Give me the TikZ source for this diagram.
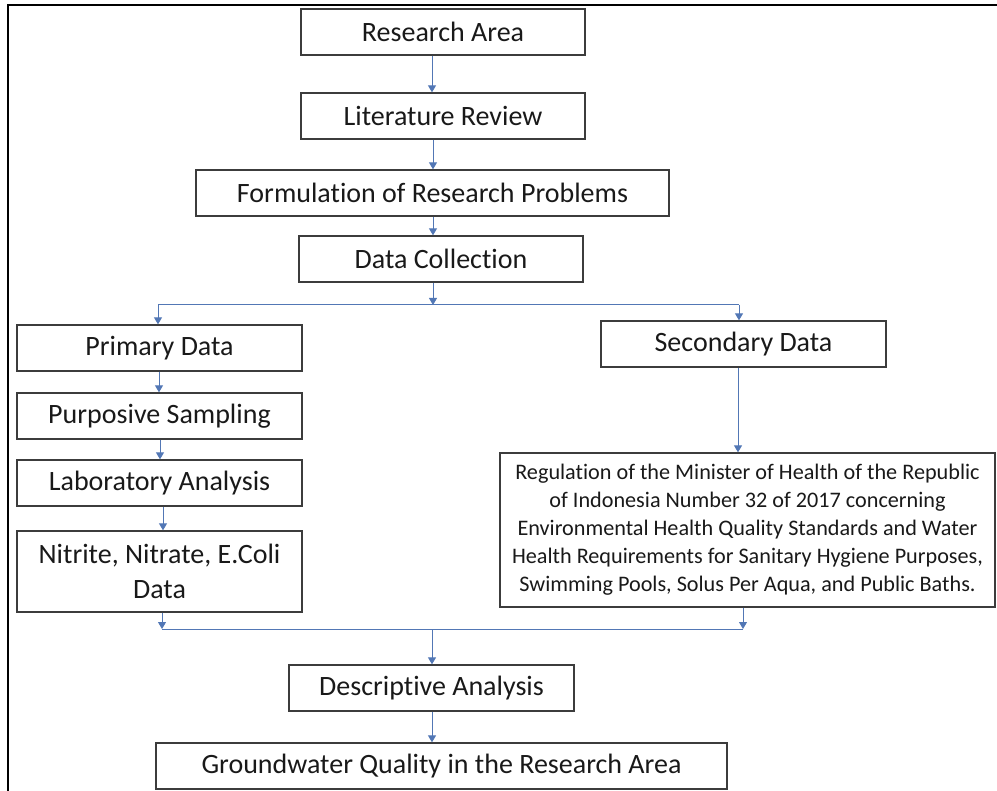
\documentclass[tikz,border=0pt]{standalone}
\usepackage{fontspec}
\setmainfont{Carlito}[Ligatures=NoCommon]
\usetikzlibrary{arrows.meta,calc}
\definecolor{boxline}{HTML}{3C3C3C}
\definecolor{arrcol}{HTML}{5277B5}
\begin{document}
\begin{tikzpicture}[x=1pt,y=-1pt,
  box/.style={draw=boxline,line width=1.3pt,inner sep=0pt,align=center,font=\fontsize{28}{34.5}\selectfont,text=black!90},
  regbox/.style={box,font=\fontsize{22.2}{28}\selectfont},
  conn/.style={draw=arrcol,line width=1pt},
  arr/.style={conn,-{Triangle[length=7pt,width=8pt]}}]
\useasboundingbox (0,0) rectangle (997,791);
\draw[line width=2pt] (8,800) -- (8,5) -- (1000,5);
\node[box,minimum width=284pt,minimum height=46pt] (ra) at (443,32) {Research Area};
\node[box,minimum width=284pt,minimum height=46pt] (lr) at (443,116) {Literature Review};
\node[box,minimum width=473pt,minimum height=46pt] (fr) at (432.5,193) {Formulation of Research Problems};
\node[box,minimum width=284pt,minimum height=46pt] (dc) at (441,259) {Data Collection};
\node[box,minimum width=285pt,minimum height=46pt] (pd) at (159.5,348) {Primary Data};
\node[box,minimum width=285pt,minimum height=46pt] (ps) at (159.5,416) {Purposive Sampling};
\node[box,minimum width=285pt,minimum height=46pt] (la) at (159.5,483) {Laboratory Analysis};
\node[box,minimum width=285pt,minimum height=81pt] (nn) at (159.5,571.5) {Nitrite, Nitrate, E.Coli\\Data};
\node[box,minimum width=285pt,minimum height=46pt] (sd) at (743.5,344) {Secondary Data};
\node[regbox,minimum width=495pt,minimum height=154pt] (rg) at (747.5,530) {Regulation of the Minister of Health of the Republic\\of Indonesia Number 32 of 2017 concerning\\Environmental Health Quality Standards and Water\\Health Requirements for Sanitary Hygiene Purposes,\\Swimming Pools, Solus Per Aqua, and Public Baths.};
\node[box,minimum width=285pt,minimum height=46pt] (da) at (431.5,688) {Descriptive Analysis};
\node[box,minimum width=571pt,minimum height=46pt] (gw) at (441.5,766) {Groundwater Quality in the Research Area};
% connectors
\draw[arr] ([xshift=-11pt]ra.south) -- ([xshift=-11pt]lr.north);
\draw[arr] ([xshift=-10pt]lr.south) -- (fr.north -| {433,0});
\draw[arr] (fr.south -| {433,0}) -- ([xshift=-8pt]dc.north);
\coordinate (split) at (433,305);
\coordinate (sl) at (158,305);
\coordinate (sr) at (739,305);
\draw[arr] (dc.south -| split) -- (split);
\draw[conn] (sl) -- (sr);
\draw[arr] (sl) -- (pd.north -| sl);
\draw[arr] (sr) -- (sd.north -| sr);
\draw[arr] (pd.south -| {159,0}) -- (ps.north -| {159,0});
\draw[arr] (ps.south -| {160,0}) -- (la.north -| {160,0});
\draw[arr] (la.south -| {163,0}) -- (nn.north -| {163,0});
\draw[arr] (sd.south -| {738,0}) -- (rg.north -| {738,0});
\coordinate (merge) at (432,629);
\coordinate (ml) at (162,629);
\coordinate (mr) at (743,629);
\draw[conn] (ml) -- (mr);
\draw[arr] (nn.south -| ml) -- (ml);
\draw[arr] (rg.south -| mr) -- (mr);
\draw[arr] (merge) -- (da.north -| merge);
\draw[arr] (da.south -| merge) -- (gw.north -| merge);
\end{tikzpicture}
\end{document}
